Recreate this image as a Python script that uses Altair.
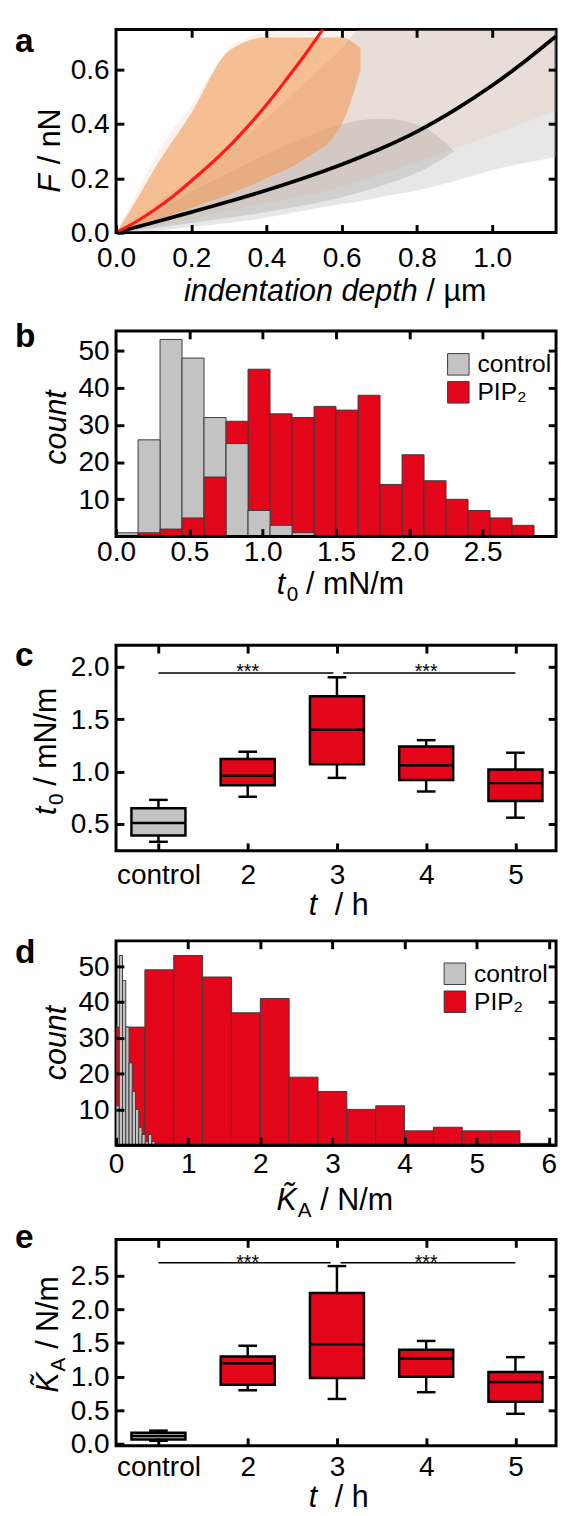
import altair as alt
import pandas as pd

FONT = "Liberation Sans"
RED = "#e3061b"
GRAY = "#c3c3c3"
EDGE = "#3c3c3c"
W = 448

# ---------------- (a) force vs indentation ----------------
a_red_x = [0.0, 0.05, 0.10, 0.15, 0.20, 0.25, 0.30, 0.35, 0.40, 0.45, 0.50, 0.55]
a_red_y = [0.0, 0.035, 0.08, 0.13, 0.19, 0.25, 0.315, 0.39, 0.47, 0.56, 0.65, 0.75]
a_blk_x = [0.0, 0.1, 0.2, 0.3, 0.4, 0.5, 0.6, 0.7, 0.8, 0.9, 1.0, 1.1, 1.17]
a_blk_y = [0.0, 0.036, 0.075, 0.114, 0.155, 0.2, 0.25, 0.306, 0.37, 0.45, 0.54, 0.645, 0.725]
# extents of the scattered raw points (control = grey, PIP2 = orange), sparse and dense parts
a_gray_x = [0.0, 0.1, 0.2, 0.3, 0.4, 0.5, 0.6, 0.65, 0.7, 0.8, 0.9, 1.0, 1.1, 1.17]
a_gray_lo = [0.0, 0.005, 0.02, 0.035, 0.055, 0.08, 0.105, 0.115, 0.13, 0.155, 0.19, 0.23, 0.26, 0.28]
a_gray_hi = [0.0, 0.1, 0.2, 0.3, 0.42, 0.55, 0.68, 0.75, 0.75, 0.75, 0.75, 0.75, 0.75, 0.75]
a_grayc_x = [0.0, 0.1, 0.2, 0.3, 0.4, 0.5, 0.6, 0.7, 0.8, 0.9]
a_grayc_lo = [0.0, 0.015, 0.035, 0.055, 0.075, 0.1, 0.13, 0.17, 0.22, 0.3]
a_grayc_hi = [0.0, 0.07, 0.15, 0.22, 0.29, 0.35, 0.4, 0.42, 0.4, 0.3]
a_org_x = [0.0, 0.05, 0.1, 0.15, 0.2, 0.25, 0.3, 0.35, 0.45, 0.6, 0.8, 1.0, 1.17]
a_org_lo = [0.0, 0.01, 0.02, 0.035, 0.05, 0.065, 0.08, 0.095, 0.12, 0.17, 0.26, 0.36, 0.45]
a_org_hi = [0.0, 0.13, 0.27, 0.38, 0.47, 0.58, 0.68, 0.72, 0.75, 0.75, 0.75, 0.75, 0.75]
a_orgc_x = [0.0, 0.05, 0.1, 0.2, 0.3, 0.4, 0.5, 0.6, 0.65]
a_orgc_lo = [0.0, 0.015, 0.04, 0.09, 0.14, 0.2, 0.27, 0.4, 0.6]
a_orgc_hi = [0.0, 0.11, 0.23, 0.44, 0.67, 0.72, 0.72, 0.72, 0.68]

# ---------------- (b) t0 histogram ----------------
b_bin = 0.15
b_control = [1, 26, 53, 48, 32, 25, 7, 3, 1]
b_pip2 = [0, 1, 2, 5, 16, 31, 45, 33, 32, 35, 34, 38, 14, 22, 15, 10, 7, 5, 3, 0.2]

# ---------------- (c) t0 box plots ----------------
cats = ["control", "2", "3", "4", "5"]
c_lo = [0.33, 0.76, 0.94, 0.81, 0.56]
c_q1 = [0.39, 0.87, 1.07, 0.92, 0.72]
c_med = [0.51, 0.96, 1.40, 1.06, 0.89]
c_q3 = [0.65, 1.12, 1.72, 1.24, 1.02]
c_hi = [0.73, 1.19, 1.90, 1.30, 1.18]
c_sig_y = 1.94

# ---------------- (d) K_A histogram ----------------
d_bin_pip2 = 0.4
d_pip2 = [33, 49, 53, 47, 37, 41, 19, 15, 10, 11, 4, 5, 4, 4, 0.5]
d_bin_ctrl = 0.045
d_control = [11, 53, 46, 33, 23, 15, 10, 5, 3, 1, 3, 1]

# ---------------- (e) K_A box plots ----------------
e_lo = [0.05, 0.80, 0.67, 0.77, 0.45]
e_q1 = [0.07, 0.88, 0.98, 1.00, 0.63]
e_med = [0.12, 1.20, 1.48, 1.27, 0.92]
e_q3 = [0.17, 1.30, 2.24, 1.40, 1.07]
e_hi = [0.20, 1.46, 2.64, 1.53, 1.29]
e_sig_y = 2.69

# ---------------- helpers ----------------
CW = {' ': .278, '/': .278, '.': .278, '~': .584, '*': .389, 'a': .556, 'b': .556, 'c': .5,
      'd': .556, 'e': .556, 'f': .278, 'g': .556, 'h': .556, 'i': .222, 'j': .222, 'k': .5,
      'l': .222, 'm': .833, 'n': .556, 'o': .556, 'p': .556, 'q': .556, 'r': .333, 's': .5,
      't': .278, 'u': .556, 'v': .5, 'w': .722, 'x': .5, 'y': .5, 'z': .5, 'A': .667,
      'F': .611, 'I': .278, 'K': .667, 'N': .722, 'P': .667, 'µ': .576, '\u0303': 0.0}
TS = 31     # axis title font size
LS = 28.5   # tick label font size


def tw(s, size):
    return sum(CW.get(c, 0.556) for c in s) * size


def label(s, x, y, size, italic=False, bold=False, angle=0, align="left"):
    props = dict(fontSize=size, font=FONT, color="black", align=align, baseline="alphabetic")
    if italic:
        props["fontStyle"] = "italic"
    if bold:
        props["fontWeight"] = "bold"
    if angle:
        props["angle"] = angle
    return alt.Chart(pd.DataFrame({"v": [0]})).mark_text(**props).encode(
        x=alt.value(x), y=alt.value(y), text=alt.value(s))


def rich(parts, cx, cy, angle=0):
    total = sum(p.get("gap", 0) + tw(p["s"], p["size"]) for p in parts)
    cum = -total / 2
    out = []
    for p in parts:
        cum += p.get("gap", 0)
        sh = p.get("shift", 0)
        if angle == 0:
            x, y = cx + cum, cy + sh
        else:
            x, y = cx + sh, cy - cum
        out.append(label(p["s"], x, y, p["size"], italic=p.get("it", False), angle=angle))
        cum += tw(p["s"], p["size"])
    return out


TICK = dict(domain=False, grid=False, title=None, ticks=True, tickSize=8, tickWidth=3,
            tickColor="black", offset=-8, zindex=2)


def main_axes(xvals, yvals, xfmt, yfmt, xpad, xexpr=None):
    common = dict(labelFont=FONT, labelFontSize=LS, labelColor="black", labelFlush=False,
                  labelOverlap=False, **TICK)
    if xexpr:
        xa = alt.Axis(orient="bottom", values=xvals, labelExpr=xexpr, labelPadding=xpad, **common)
    else:
        xa = alt.Axis(orient="bottom", values=xvals, format=xfmt, labelPadding=xpad, **common)
    ya = alt.Axis(orient="left", values=yvals, format=yfmt, labelPadding=7, **common)
    return xa, ya


def frame_ticks(xs, ys, xvals, yvals, xmid, ymid):
    df = pd.DataFrame({"tx": [xmid], "ty": [ymid]})
    return alt.Chart(df).mark_point(size=0, opacity=0).encode(
        x=alt.X("tx:Q", scale=xs, axis=alt.Axis(orient="top", values=xvals, labels=False, **TICK)),
        y=alt.Y("ty:Q", scale=ys, axis=alt.Axis(orient="right", values=yvals, labels=False, **TICK)))


def panel(content, ticks, H):
    return alt.layer(alt.layer(*content), ticks).resolve_axis(
        x="independent", y="independent").properties(
        width=W, height=H, view=alt.ViewBackground(stroke="black", strokeWidth=3))


def spacer(h):
    return alt.Chart(pd.DataFrame({"s": [0]})).mark_point(size=0, opacity=0).encode(
        x=alt.value(0), y=alt.value(0)).properties(width=W, height=h)


def title_t_unit(unit):
    return [dict(s="t", size=TS, it=True), dict(s="0", size=21, shift=7, gap=1.5),
            dict(s=unit, size=TS, gap=8)]


def title_K():
    return [dict(s="K\u0303", size=TS, it=True),
            dict(s="A", size=21, shift=7, gap=1),
            dict(s="/ N/m", size=TS, gap=9)]


def title_th():
    return [dict(s="t", size=TS, it=True), dict(s="/ h", size=TS, gap=18)]


# ---------------- panel a ----------------
Ha = 206.7
xs_a = alt.Scale(domain=[0, 1.17], nice=False, zero=False)
ys_a = alt.Scale(domain=[0, 0.75], nice=False, zero=False)
xa_a, ya_a = main_axes([0, 0.2, 0.4, 0.6, 0.8, 1.0], [0, 0.2, 0.4, 0.6], ".1f", ".1f", 11.5)


def band(x, lo, hi, color, op):
    df = pd.DataFrame({"x": x, "lo": lo, "hi": hi})
    return alt.Chart(df).mark_area(color=color, opacity=op, clip=True, interpolate="monotone").encode(
        x=alt.X("x:Q", scale=xs_a, axis=xa_a), y=alt.Y("hi:Q", scale=ys_a, axis=ya_a), y2="lo:Q")


def curve(x, y, color, w):
    df = pd.DataFrame({"x": x, "y": y})
    return alt.Chart(df).mark_line(color=color, strokeWidth=w, clip=True, interpolate="basis").encode(
        x=alt.X("x:Q", scale=xs_a, axis=xa_a), y=alt.Y("y:Q", scale=ys_a, axis=ya_a))


pa = panel(
    [band(a_gray_x, a_gray_lo, a_gray_hi, "#b0b0b0", 0.3),
     band(a_grayc_x, a_grayc_lo, a_grayc_hi, "#9a9a9a", 0.3),
     band(a_org_x, a_org_lo, a_org_hi, "#f0a060", 0.12),
     band(a_orgc_x, a_orgc_lo, a_orgc_hi, "#f29d5c", 0.62),
     curve(a_blk_x, a_blk_y, "black", 3.8),
     curve(a_red_x, a_red_y, "#ff1a1a", 3.2),
     label("a", -103, 23.4, 34, bold=True)]
    + rich([dict(s="indentation depth", size=TS, it=True), dict(s="/ µm", size=TS, gap=9)], W * 0.498, Ha + 69.5)
    + rich([dict(s="F", size=TS, it=True), dict(s="/ nN", size=TS, gap=10)], -57, Ha / 2 + 20, angle=270),
    frame_ticks(xs_a, ys_a, [0.2, 0.4, 0.6, 0.8, 1.0], [0.2, 0.4, 0.6], 0.5, 0.3), Ha)


# ---------------- histogram helper ----------------
def hist_rows(counts, width, name):
    return [dict(x0=i * width, x1=(i + 1) * width, n=c, s=name) for i, c in enumerate(counts)]


def hist_layer(df, xs, ys, xa, ya, lx, ly):
    return alt.Chart(df).mark_rect(stroke=EDGE, strokeWidth=1, clip=True).encode(
        x=alt.X("x0:Q", scale=xs, axis=xa), x2="x1:Q",
        y=alt.Y("n:Q", scale=ys, axis=ya), y2=alt.datum(0),
        color=alt.Color("s:N", scale=alt.Scale(domain=["control", "PIP₂"], range=[GRAY, RED]),
                        legend=alt.Legend(orient="none", legendX=lx, legendY=ly, title=None,
                                          symbolType="square", symbolSize=480, symbolStrokeColor=EDGE,
                                          symbolStrokeWidth=1, symbolOpacity=1, labelFont=FONT,
                                          labelFontSize=25, labelColor="black", labelOffset=7,
                                          rowPadding=1.5, padding=0)))


def bottom_rule(ys):
    return alt.Chart(pd.DataFrame({"v": [0]})).mark_rule(color="black", strokeWidth=3).encode(
        y=alt.Y("v:Q", scale=ys), x=alt.value(0), x2=alt.value(W))


# ---------------- panel b ----------------
Hb = 209.3
xs_b = alt.Scale(domain=[0, 3.0], nice=False, zero=False)
ys_b = alt.Scale(domain=[0, 55.3], nice=False, zero=False)
xa_b, ya_b = main_axes([0, 0.5, 1.0, 1.5, 2.0, 2.5], [10, 20, 30, 40, 50], ".1f", "d", 1.5)
df_b = pd.DataFrame(hist_rows(b_control, b_bin, "control") + hist_rows(b_pip2, b_bin, "PIP₂"))
df_b = df_b.sort_values("n", ascending=False, kind="stable").reset_index(drop=True)
pb = panel(
    [hist_layer(df_b, xs_b, ys_b, xa_b, ya_b, W - 112, 21.5), bottom_rule(ys_b),
     label("b", -103, 16.7, 34, bold=True)]
    + rich(title_t_unit("/ mN/m"), W * 0.51, Hb + 58.5)
    + rich([dict(s="count", size=TS, it=True)], -51, Hb / 2 - 6.4, angle=270),
    frame_ticks(xs_b, ys_b, [0.5, 1.0, 1.5, 2.0, 2.5], [10, 20, 30, 40, 50], 1.5, 20), Hb)


# ---------------- box helper ----------------
def box_layers(lo, q1, med, q3, hi, xs, ys, xa, ya, sig_y, seg, sdy):
    df = pd.DataFrame({"pos": [1, 2, 3, 4, 5], "lo": lo, "q1": q1, "med": med, "q3": q3, "hi": hi,
                       "col": [GRAY, RED, RED, RED, RED]})
    X = alt.X("pos:Q", scale=xs, axis=xa)
    base = alt.Chart(df)
    whisk = base.mark_rule(color="black", strokeWidth=2.5).encode(
        x=X, y=alt.Y("lo:Q", scale=ys, axis=ya), y2="hi:Q")
    cap_lo = base.mark_tick(orient="horizontal", size=19, thickness=2.5, color="black", opacity=1).encode(
        x=X, y=alt.Y("lo:Q", scale=ys, axis=ya))
    cap_hi = base.mark_tick(orient="horizontal", size=19, thickness=2.5, color="black", opacity=1).encode(
        x=X, y=alt.Y("hi:Q", scale=ys, axis=ya))
    box = base.mark_bar(size=55, stroke="black", strokeWidth=2.5, opacity=1).encode(
        x=X, y=alt.Y("q1:Q", scale=ys, axis=ya), y2="q3:Q", fill=alt.Fill("col:N", scale=None))
    mline = base.mark_tick(orient="horizontal", size=55, thickness=2.5, color="black", opacity=1).encode(
        x=X, y=alt.Y("med:Q", scale=ys, axis=ya))
    sig = pd.DataFrame({"x1": [1, seg[1]], "x2": [seg[0], 5], "y": [sig_y, sig_y]})
    sig_l = alt.Chart(sig).mark_rule(color="black", strokeWidth=1.5).encode(
        x=alt.X("x1:Q", scale=xs, axis=xa), x2="x2:Q", y=alt.Y("y:Q", scale=ys, axis=ya))
    stars = pd.DataFrame({"sx": [2, 4], "sy": [sig_y, sig_y]})
    star_t = alt.Chart(stars).mark_text(text="***", fontSize=20, font=FONT, dy=sdy, baseline="alphabetic",
                                        color="black").encode(
        x=alt.X("sx:Q", scale=xs, axis=xa), y=alt.Y("sy:Q", scale=ys, axis=ya))
    return [whisk, cap_lo, cap_hi, box, mline, sig_l, star_t]


CAT_EXPR = "datum.value == 1 ? 'control' : format(datum.value, 'd')"

# ---------------- panel c ----------------
Hc = 209.3
xs_c = alt.Scale(domain=[0.58, 5.4], nice=False, zero=False)
ys_c = alt.Scale(domain=[0.244, 2.206], nice=False, zero=False)
xa_c, ya_c = main_axes([1, 2, 3, 4, 5], [0.5, 1.0, 1.5, 2.0], None, ".1f", 10.5, xexpr=CAT_EXPR)
pc = panel(
    box_layers(c_lo, c_q1, c_med, c_q3, c_hi, xs_c, ys_c, xa_c, ya_c, c_sig_y, (2.96, 3.07), 4.5)
    + [label("c", -103, 21, 34, bold=True)]
    + rich(title_th(), W * 0.506, Hc + 65)
    + rich(title_t_unit("/ mN/m"), -61, Hc / 2 + 3.3, angle=270),
    frame_ticks(xs_c, ys_c, [1, 2, 3, 4, 5], [0.5, 1.0, 1.5, 2.0], 3, 1), Hc)

# ---------------- panel d ----------------
Hd = 208
xs_d = alt.Scale(domain=[0, 6.1], nice=False, zero=False)
ys_d = alt.Scale(domain=[0, 57.1], nice=False, zero=False)
xa_d, ya_d = main_axes([0, 1, 2, 3, 4, 5, 6], [10, 20, 30, 40, 50], "d", "d", 4.7)
df_d = pd.DataFrame(hist_rows(d_pip2, d_bin_pip2, "PIP₂") + hist_rows(d_control, d_bin_ctrl, "control"))
pd_ = panel(
    [hist_layer(df_d, xs_d, ys_d, xa_d, ya_d, W - 115.5, 21), bottom_rule(ys_d),
     label("d", -103, 22.4, 34, bold=True)]
    + rich(title_K(), W * 0.497, Hd + 65.7)
    + rich([dict(s="count", size=TS, it=True)], -51, Hd / 2, angle=270),
    frame_ticks(xs_d, ys_d, [1, 2, 3, 4, 5, 6], [10, 20, 30, 40, 50], 3, 20), Hd)

# ---------------- panel e ----------------
He = 210
xs_e = alt.Scale(domain=[0.58, 5.4], nice=False, zero=False)
ys_e = alt.Scale(domain=[-0.023, 3.035], nice=False, zero=False)
xa_e, ya_e = main_axes([1, 2, 3, 4, 5], [0.0, 0.5, 1.0, 1.5, 2.0, 2.5], None, ".1f", 7, xexpr=CAT_EXPR)
pe = panel(
    box_layers(e_lo, e_q1, e_med, e_q3, e_hi, xs_e, ys_e, xa_e, ya_e, e_sig_y, (2.93, 3.04), 6)
    + [label("e", -103, 8.7, 34, bold=True)]
    + rich(title_th(), W * 0.506, He + 62)
    + rich(title_K(), -59, He / 2 - 8.3, angle=270),
    frame_ticks(xs_e, ys_e, [1, 2, 3, 4, 5], [0.5, 1.0, 1.5, 2.0, 2.5], 3, 1), He)

chart = alt.vconcat(pa, spacer(100), pb, spacer(109.7), pc, spacer(91), pd_, spacer(96), pe,
                    spacing=0, bounds="flush").resolve_scale(color="independent").resolve_legend(
    color="independent").properties(
    padding={"left": 5, "top": 2, "right": 0, "bottom": 0}
).configure(font=FONT).configure_view(stroke="transparent")

chart.save("out.html", embed_options={"renderer": "svg", "actions": False})
